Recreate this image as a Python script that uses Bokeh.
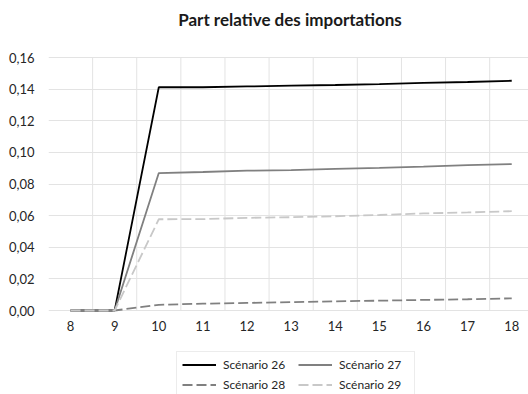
from bokeh.plotting import figure
from bokeh.models import FixedTicker, CustomJSTickFormatter, Legend, LegendItem, Range1d, Label
from bokeh.embed import file_html
from bokeh.resources import INLINE

periods = [8, 9, 10, 11, 12, 13, 14, 15, 16, 17, 18]
scenario_26 = [0.0, 0.0, 0.1412, 0.1412, 0.1417, 0.1422, 0.1426, 0.1431, 0.1440, 0.1445, 0.1453]
scenario_27 = [0.0, 0.0, 0.0869, 0.0876, 0.0884, 0.0888, 0.0896, 0.0902, 0.0910, 0.0920, 0.0926]
scenario_28 = [0.0, 0.0, 0.0036, 0.0043, 0.0048, 0.0053, 0.0058, 0.0062, 0.0067, 0.0071, 0.0077]
scenario_29 = [0.0, 0.0, 0.0577, 0.0578, 0.0586, 0.0590, 0.0596, 0.0604, 0.0614, 0.0620, 0.0628]
names = ["Scénario 26", "Scénario 27", "Scénario 28", "Scénario 29"]
y_ticks = [0.0, 0.02, 0.04, 0.06, 0.08, 0.10, 0.12, 0.14, 0.16]
title_text = "Part relative des importations"

FONT = "Lato"
GRID = "#e3e3e3"

# frame spans the whole canvas height (394px); value area: 0 at 310px, 0.16 at 57px
px_per_unit = (310 - 57) / y_ticks[-1]
y_bottom = -(394 - 310) / px_per_unit
y_top = y_ticks[-1] + 57 / px_per_unit

p = figure(width=528, height=394, output_backend="svg", toolbar_location=None,
           x_range=Range1d(7.5, 18.38), y_range=Range1d(y_bottom, y_top),
           min_border_left=48, min_border_right=0, min_border_top=0, min_border_bottom=0)
p.title = None
p.outline_line_color = None
p.background_fill_color = "white"

# vertical grid lines between categories, only over the value area
bounds = [x + 0.5 for x in periods[:-1]]
p.segment(x0=bounds, y0=[y_ticks[0]] * len(bounds), x1=bounds, y1=[y_ticks[-1]] * len(bounds),
          line_color=GRID, line_width=1)

styles = [
    dict(color="#000000", dash="solid"),
    dict(color="#808080", dash="solid"),
    dict(color="#808080", dash="10 4"),
    dict(color="#c8c8c8", dash="10 4"),
]
series = [scenario_26, scenario_27, scenario_28, scenario_29]
renderers = []
for s, st in zip(series, styles):
    r = p.line(periods, s, line_color=st["color"], line_width=1.8, line_dash=st["dash"])
    renderers.append(r)

p.xaxis.ticker = FixedTicker(ticks=periods)
p.xaxis.fixed_location = 0
p.yaxis.ticker = FixedTicker(ticks=y_ticks)
p.yaxis.formatter = CustomJSTickFormatter(code="return tick.toFixed(2).replace('.', ',');")
for ax in (p.xaxis, p.yaxis):
    ax.axis_line_color = None
    ax.major_tick_line_color = None
    ax.minor_tick_line_color = None
    ax.major_label_text_font = FONT
    ax.major_label_text_font_size = "13px"
    ax.major_label_text_color = "#262626"
p.yaxis.major_label_standoff = 8
p.xaxis.major_label_standoff = 4

p.xgrid.visible = False
p.ygrid.ticker = FixedTicker(ticks=y_ticks)
p.ygrid.grid_line_color = GRID

title = Label(x=241.5, y=394 - 19, x_units="screen", y_units="screen", text=title_text,
              text_font=FONT, text_font_size="17px", text_font_style="bold",
              text_color="#1a1a1a", text_align="center", text_baseline="middle")
p.add_layout(title)

legend = Legend(items=[LegendItem(label=n, renderers=[r]) for n, r in zip(names, renderers)],
                orientation="horizontal", ncols=2, location=(128, -4))
legend.label_text_font = FONT
legend.label_text_font_size = "12px"
legend.label_text_color = "#262626"
legend.glyph_width = 34
legend.glyph_height = 15
legend.label_standoff = 7
legend.label_width = 70
legend.spacing = 5
legend.padding = 5
legend.margin = 0
legend.border_line_color = "#d9d9d9"
legend.background_fill_alpha = 1
p.add_layout(legend, "center")

open("out.html", "w").write(file_html(p, INLINE))
